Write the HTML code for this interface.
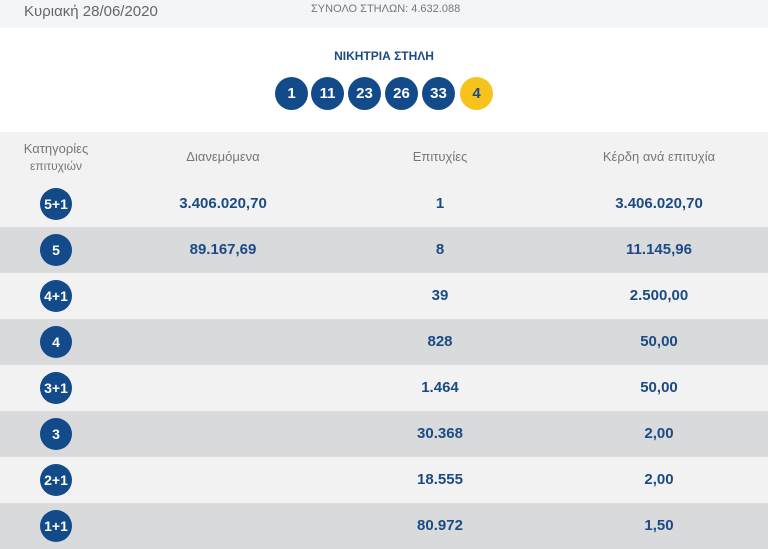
<!DOCTYPE html>
<html><head><meta charset="utf-8"><style>
body{margin:0;width:768px;height:539px;overflow:hidden;background:#fff;font-family:"Liberation Sans",sans-serif;position:relative}
.top{position:absolute;left:0;top:0;width:768px;height:28px;background:#f3f5f7}
.t{position:absolute;white-space:nowrap}
.ball{position:absolute;top:77px;width:33px;height:33px;border-radius:50%;background:#124a8a;color:#fff;font-weight:bold;font-size:15px;text-align:center;line-height:33px}
.hdr{position:absolute;left:0;top:132px;width:768px;height:49px;background:#f2f2f2;color:#777;font-size:13px}
.row{position:absolute;left:0;width:768px;height:46px;color:#1c4a85;font-weight:bold;font-size:15px}
.row div{position:absolute;top:0;line-height:46px;text-align:center}
.c{left:40px!important;top:7px!important;width:32px;height:32px;border-radius:50%;background:#124a8a;color:#fff;line-height:32px!important;font-size:14px}
</style></head><body>
<div class="top"></div>
<div class="t" style="left:24px;top:3px;font-size:15px;color:#666">Κυριακή 28/06/2020</div>
<div class="t" style="left:311px;top:3px;font-size:11px;color:#777">ΣΥΝΟΛΟ ΣΤΗΛΩΝ: 4.632.088</div>
<div class="t" style="left:0;width:768px;text-align:center;top:49px;font-size:12px;font-weight:bold;color:#1c4a85">ΝΙΚΗΤΡΙΑ ΣΤΗΛΗ</div>
<div class="ball" style="left:275px">1</div>
<div class="ball" style="left:311px">11</div>
<div class="ball" style="left:348px">23</div>
<div class="ball" style="left:385px">26</div>
<div class="ball" style="left:422px">33</div>
<div class="ball" style="left:460px;background:#f6c31c;color:#1c4a85">4</div>
<div class="hdr">
<div class="t" style="left:16px;width:80px;text-align:center;top:8px;line-height:17px">Κατηγορίες<br><span style="font-size:12px">επιτυχιών</span></div>
<div class="t" style="left:163px;width:120px;text-align:center;top:17px">Διανεμόμενα</div>
<div class="t" style="left:380px;width:120px;text-align:center;top:17px">Επιτυχίες</div>
<div class="t" style="left:579px;width:160px;text-align:center;top:17px">Κέρδη ανά επιτυχία</div>
</div>
<div class="row" style="top:181px;background:#f2f2f2"><div class="c">5+1</div><div style="left:143px;width:160px">3.406.020,70</div><div style="left:390px;width:100px">1</div><div style="left:579px;width:160px">3.406.020,70</div></div>
<div class="row" style="top:227px;background:#d9dadb"><div class="c">5</div><div style="left:143px;width:160px">89.167,69</div><div style="left:390px;width:100px">8</div><div style="left:579px;width:160px">11.145,96</div></div>
<div class="row" style="top:273px;background:#f2f2f2"><div class="c">4+1</div><div style="left:390px;width:100px">39</div><div style="left:579px;width:160px">2.500,00</div></div>
<div class="row" style="top:319px;background:#d9dadb"><div class="c">4</div><div style="left:390px;width:100px">828</div><div style="left:579px;width:160px">50,00</div></div>
<div class="row" style="top:365px;background:#f2f2f2"><div class="c">3+1</div><div style="left:390px;width:100px">1.464</div><div style="left:579px;width:160px">50,00</div></div>
<div class="row" style="top:411px;background:#d9dadb"><div class="c">3</div><div style="left:390px;width:100px">30.368</div><div style="left:579px;width:160px">2,00</div></div>
<div class="row" style="top:457px;background:#f2f2f2"><div class="c">2+1</div><div style="left:390px;width:100px">18.555</div><div style="left:579px;width:160px">2,00</div></div>
<div class="row" style="top:503px;background:#d9dadb"><div class="c">1+1</div><div style="left:390px;width:100px">80.972</div><div style="left:579px;width:160px">1,50</div></div>
</body></html>
